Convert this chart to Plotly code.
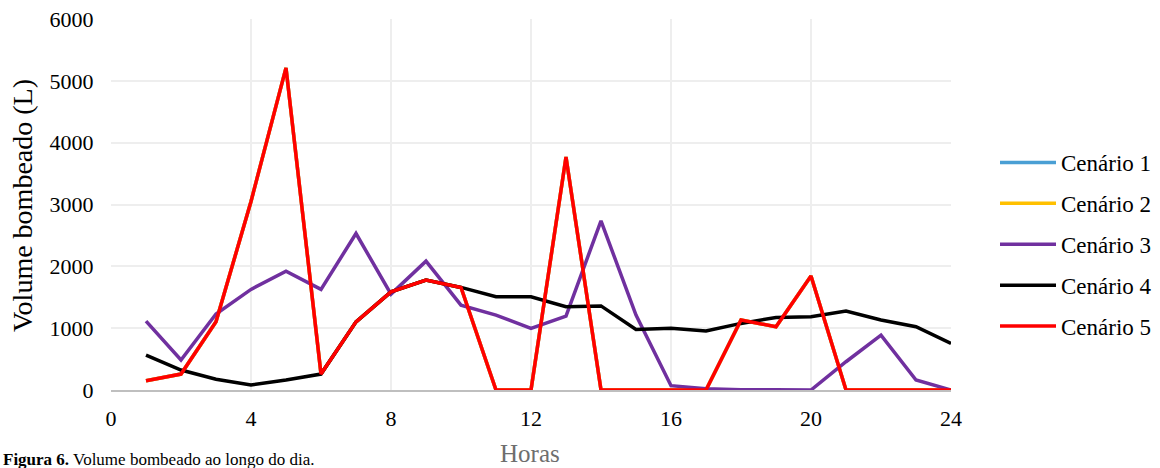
import plotly.graph_objects as go

horas = list(range(1, 25))
cenario5 = [150, 258, 1103, 3050, 5210, 258, 1103, 1588, 1777, 1659, 0, 0,
            3769, 0, 0, 0, 0, 1131, 1023, 1842, 0, 0, 0, 0]
cenario1 = list(cenario5)
cenario2 = list(cenario5)
cenario3 = [1115, 485, 1230, 1627, 1922, 1627, 2531, 1551, 2084, 1373, 1212, 997,
            1195, 2735, 1212, 70, 20, 5, 5, 0, 457, 888, 161, 0]
cenario4 = [565, 323, 173, 81, 162, 258, 1103, 1588, 1777, 1659, 1508, 1508,
            1346, 1360, 980, 997, 953, 1077, 1174, 1185, 1276, 1131, 1023, 754]
xticks = [0, 4, 8, 12, 16, 20, 24]
yticks = [0, 1000, 2000, 3000, 4000, 5000, 6000]

nomes = ["Cenário 1", "Cenário 2", "Cenário 3", "Cenário 4", "Cenário 5"]
series = [cenario1, cenario2, cenario3, cenario4, cenario5]
cores = ["#4A9FD4", "#FFC000", "#70309F", "#000000", "#FF0000"]

W, H = 1160, 468
L, R, T, B = 111, 209, 19, 78

fig = go.Figure()
for i, (n, s, c) in enumerate(zip(nomes, series, cores)):
    fig.add_trace(go.Scatter(x=horas, y=s, name=n, mode="lines",
                             line=dict(color=c, width=3.5),
                             legendgroup=str(i)))

font = "Liberation Serif"
pw, ph = W - L - R, H - T - B
def px(xp):
    return (xp - L) / pw
def py(yp):
    return (H - B - yp) / ph

fig.update_layout(
    width=W, height=H,
    margin=dict(l=L, r=R, t=T, b=B, autoexpand=False),
    plot_bgcolor="white", paper_bgcolor="white",
    font=dict(family=font, size=22, color="black"),
    showlegend=True,
    legend=dict(x=px(995), y=py(141), xanchor="left", yanchor="top",
                font=dict(size=23, family=font, color="black"), tracegroupgap=8,
                itemwidth=56, bgcolor="rgba(0,0,0,0)"),
    xaxis=dict(range=[0, 24], tickvals=xticks,
               showgrid=True, gridcolor="#EEEEEE", gridwidth=1.5,
               zeroline=False, showline=True, linecolor="#BFBFBF", linewidth=1.5,
               ticks="outside", ticklen=8, tickcolor="rgba(0,0,0,0)",
               tickfont=dict(size=22, family=font)),
    yaxis=dict(range=[0, 6000], tickvals=yticks,
               showgrid=True, gridcolor="#EEEEEE", gridwidth=1.5,
               zeroline=False, showline=False,
               ticks="outside", ticklen=12, tickcolor="rgba(0,0,0,0)",
               tickfont=dict(size=22, family=font)),
    annotations=[
        dict(text="Volume bombeado (L)", x=px(22), y=py(206), xref="paper", yref="paper",
             xanchor="center", yanchor="middle",
             showarrow=False, textangle=-90, font=dict(size=28, family=font)),
        dict(text="Horas", x=px(530), y=py(453), xref="paper", yref="paper",
             xanchor="center", yanchor="middle", showarrow=False,
             font=dict(size=25, family=font, color="#6E6E6E")),
        dict(text="<b>Figura 6.</b> Volume bombeado ao longo do dia.", x=px(1), y=py(459),
             xref="paper", yref="paper", xanchor="left", yanchor="middle",
             showarrow=False, font=dict(size=17, family=font)),
    ],
)

fig.write_html("out.html", config={"displayModeBar": False},
               post_script="document.body.style.margin='0';document.body.style.overflow='hidden';")
